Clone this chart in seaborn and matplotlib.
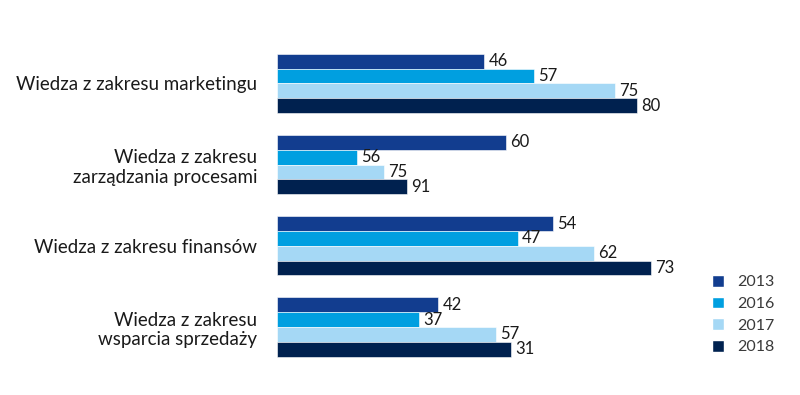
import matplotlib
matplotlib.use("Agg")
import matplotlib.pyplot as plt
import seaborn as sns
import pandas as pd
from matplotlib.patches import Patch

categories = ["Wiedza z zakresu marketingu",
              "Wiedza z zakresu\nzarządzania procesami",
              "Wiedza z zakresu finansów",
              "Wiedza z zakresu\nwsparcia sprzedaży"]
years = ["2013", "2016", "2017", "2018"]
# bar lengths as drawn in the picture
bar_2013 = [46, 50.8, 61.3, 35.8]
bar_2016 = [57, 17.7, 53.4, 31.6]
bar_2017 = [75, 23.8, 70.4, 48.6]
bar_2018 = [80, 28.9, 83.0, 52.0]
# value labels as printed
lab_2013 = [46, 60, 54, 42]
lab_2016 = [57, 56, 47, 37]
lab_2017 = [75, 75, 62, 57]
lab_2018 = [80, 91, 73, 31]
colors = ["#123d8f", "#009fe0", "#a5d8f5", "#00214f"]

bars = [bar_2013, bar_2016, bar_2017, bar_2018]
labs = [lab_2013, lab_2016, lab_2017, lab_2018]
rows = []
for y, vals in zip(years, bars):
    for c, v in zip(categories, vals):
        rows.append({"cat": c, "year": y, "val": v})
df = pd.DataFrame(rows)

sns.set_theme(style="white")
plt.rcParams["font.family"] = ["Lato", "DejaVu Sans"]

fig = plt.figure(figsize=(8, 3.95), dpi=100)
ax = fig.add_axes([0.3459, 0.0694, 0.5637, 0.822])
sns.barplot(data=df, y="cat", x="val", hue="year", hue_order=years,
            palette=colors, order=categories, orient="h", width=0.73,
            saturation=1, ax=ax, legend=False, edgecolor="white", linewidth=0.4)
ax.set_xlim(0, 100)
ax.set_ylim(3.5, -0.5)
for cont, lab in zip(ax.containers, labs):
    ax.bar_label(cont, labels=[str(v) for v in lab], padding=3,
                 fontsize=12, color="#1a1a1a")
ax.set_xlabel("")
ax.set_ylabel("")
ax.set_xticks([])
ax.tick_params(axis="y", length=0, pad=14, labelsize=13.5, labelcolor="#1a1a1a")
for s in ax.spines.values():
    s.set_visible(False)

handles = [Patch(facecolor=c, label=y) for c, y in zip(colors, years)]
fig.legend(handles=handles, loc="upper left", bbox_to_anchor=(0.872, 0.34),
           frameon=False, fontsize=11.5, handlelength=0.75, handleheight=0.75,
           handletextpad=0.8, labelspacing=0.45, labelcolor="#3a3a3a")
fig.savefig("out.png", dpi=100)
